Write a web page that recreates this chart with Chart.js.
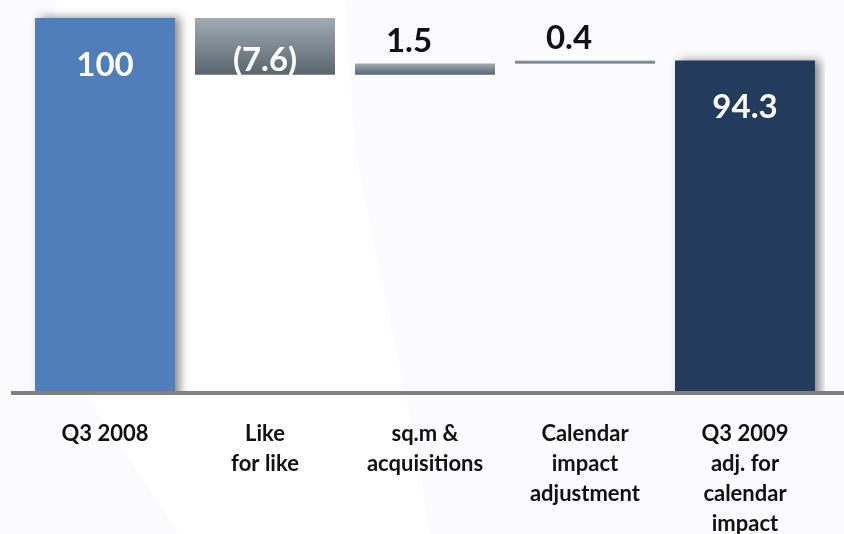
<!DOCTYPE html>
<html lang="en">
<head>
<meta charset="UTF-8">
<title>Sales bridge Q3 2008 - Q3 2009</title>
<script src="https://cdn.jsdelivr.net/npm/chart.js@4"></script>
<style>
    html, body { margin: 0; padding: 0; background: #fff; }
    #wrap { width: 844px; height: 534px; position: relative; }
</style>
</head>
<body>
<div id="wrap"><canvas id="chartBridge"></canvas></div>
<script>
    // bridge data (index, Q3 2008 = 100)
    const categories = [
        'Q3 2008',
        ['Like', 'for like'],
        ['sq.m &', 'acquisitions'],
        ['Calendar', 'impact', 'adjustment'],
        ['Q3 2009', 'adj. for', 'calendar', 'impact']
    ];
    const totals = [100, null, null, null, 94.3];
    const changes = [null, -7.6, 1.5, 0.4, null];
    const totalColors = ['#4f7eba', null, null, null, '#233b5c'];

    // floating bars: each change starts where the previous one ended
    let level = totals[0];
    const steps = changes.map(c => {
        if (c == null) return null;
        const from = level;
        level = Math.round((level + c) * 10) / 10;
        return [Math.min(from, level), Math.max(from, level)];
    });

    function formatChange(c) {
        return c < 0 ? '(' + Math.abs(c).toFixed(1) + ')' : c.toFixed(1);
    }

    function stepGradient(ctx) {
        const chart = ctx.chart;
        if (!chart.chartArea || ctx.raw == null) return '#7d8891';
        const y = chart.scales.y;
        const top = y.getPixelForValue(ctx.raw[1]);
        const bottom = y.getPixelForValue(ctx.raw[0]);
        const g = chart.ctx.createLinearGradient(0, top, 0, bottom);
        g.addColorStop(0, '#a2abb2');
        g.addColorStop(1, '#5a656f');
        return g;
    }

    const backdrop = {
        id: 'backdrop',
        beforeDraw(chart) {
            const c = chart.ctx;
            c.save();
            c.fillStyle = '#fbfafd';
            c.fillRect(0, 0, chart.width, chart.height);
            c.fillStyle = '#ffffff';
            c.beginPath();
            c.moveTo(55, 0);
            c.lineTo(345, 0);
            c.lineTo(355, 150);
            c.lineTo(405, 392);
            c.lineTo(430, 534);
            c.lineTo(178, 534);
            c.lineTo(97, 413);
            c.lineTo(55, 330);
            c.closePath();
            c.fill();
            c.restore();
        }
    };

    const barShadow = {
        id: 'barShadow',
        beforeDatasetDraw(chart, args) {
            if (args.index !== 0) return;
            const c = chart.ctx;
            c.save();
            c.shadowColor = 'rgba(0, 0, 0, 0.45)';
            c.shadowBlur = 9;
            c.shadowOffsetX = 5;
            c.shadowOffsetY = -1;
        },
        afterDatasetDraw(chart, args) {
            if (args.index === 0) chart.ctx.restore();
        }
    };

    const baseline = {
        id: 'baseline',
        afterDatasetsDraw(chart) {
            const c = chart.ctx;
            const y = chart.chartArea.bottom;
            c.save();
            c.fillStyle = '#818181';
            c.fillRect(11, y - 1, chart.width - 11, 4);
            c.restore();
        }
    };

    const valueLabels = {
        id: 'valueLabels',
        afterDatasetsDraw(chart) {
            const c = chart.ctx;
            c.save();
            c.font = 'bold 33px Lato';
            c.textAlign = 'center';
            c.textBaseline = 'middle';
            chart.getDatasetMeta(0).data.forEach((bar, i) => {
                if (totals[i] == null) return;
                const top = Math.min(bar.y, bar.base);
                c.fillStyle = '#ffffff';
                c.fillText(String(totals[i]), bar.x, top + 47);
            });
            chart.getDatasetMeta(1).data.forEach((bar, i) => {
                if (changes[i] == null) return;
                const top = Math.min(bar.y, bar.base);
                if (changes[i] < 0) {
                    c.fillStyle = '#ffffff';
                    c.fillText(formatChange(changes[i]), bar.x, top + 42);
                } else {
                    c.fillStyle = '#111111';
                    c.fillText(formatChange(changes[i]), bar.x - 16, top - 22);
                }
            });
            c.restore();
        }
    };

    new Chart(document.getElementById('chartBridge'), {
        type: 'bar',
        data: {
            labels: categories,
            datasets: [
                {
                    data: totals,
                    backgroundColor: totalColors.map(col => col || 'transparent'),
                    grouped: false,
                    categoryPercentage: 1,
                    barPercentage: 0.875
                },
                {
                    data: steps,
                    backgroundColor: stepGradient,
                    grouped: false,
                    categoryPercentage: 1,
                    barPercentage: 0.875
                }
            ]
        },
        options: {
            responsive: true,
            maintainAspectRatio: false,
            animation: false,
            layout: { padding: { left: 25, right: 19, top: 0, bottom: 0 } },
            plugins: {
                legend: { display: false },
                tooltip: { enabled: false }
            },
            scales: {
                x: {
                    grid: { display: false },
                    border: { display: false },
                    ticks: {
                        color: '#111111',
                        font: { family: 'Lato', weight: 'bold', size: 22, lineHeight: 1.36 },
                        padding: 19,
                        maxRotation: 0,
                        autoSkip: false
                    },
                    afterFit(scale) { scale.height = 142; }
                },
                y: { display: false, min: 50, max: 102.4 }
            }
        },
        plugins: [backdrop, barShadow, baseline, valueLabels]
    });
</script>
</body>
</html>
